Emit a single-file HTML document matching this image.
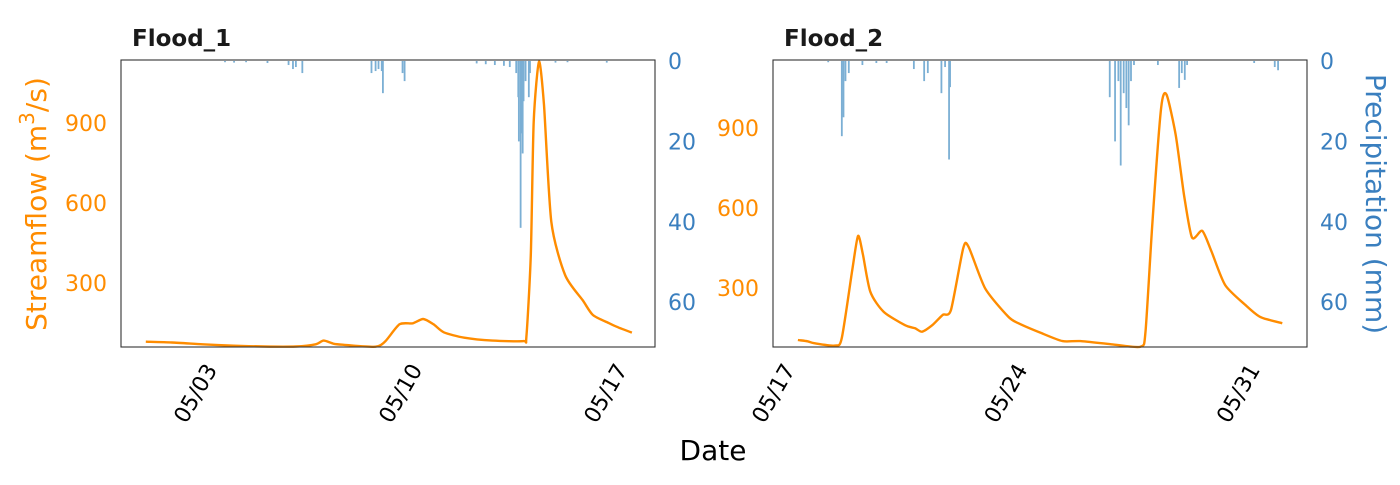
<!DOCTYPE html>
<html><head><meta charset="utf-8"><style>
body{margin:0;background:#fff;width:1400px;height:480px;overflow:hidden}
svg text{font-family:"DejaVu Sans","Liberation Sans",sans-serif}
</style></head><body>
<svg id="chart" width="1400" height="480" xmlns="http://www.w3.org/2000/svg">
<text x="0" y="0" transform="translate(46,204) rotate(-90)" text-anchor="middle" font-size="28" fill="#ff8c00">Streamflow (m<tspan dy="-12" font-size="20">3</tspan><tspan dy="12">/s)</tspan></text>
<text x="0" y="0" transform="translate(1366,204) rotate(90)" text-anchor="middle" font-size="28" fill="#3a7fbf">Precipitation (mm)</text>
<text x="713" y="460" text-anchor="middle" font-size="28" fill="#000">Date</text>
<g id="p1"></g>
<g id="p2"></g>
</svg>
<script>
// Flood_1 data (day offset from 05/01 00:00)
const flow1Days=[0.32,1.21,2.26,3.32,4.36,5.44,6.12,6.39,6.74,7.11,8.16,8.50,8.98,9.43,9.79,10.14,10.49,11.19,12.15,13.21,13.31,13.46,13.56,13.74,13.91,14.16,14.63,15.23,15.58,16.14,16.39,16.91];
const flow1Vals=[80,77,70,65,62,62,70,84,72,68,61,82,145,149,165,145,115,95,84,82,99,405,905,1130,968,530,330,236,180,149,136,114];
const rain1Days=[3.02,3.33,3.74,4.47,5.19,5.34,5.44,5.66,8.02,8.16,8.26,8.37,8.41,9.08,9.15,11.61,11.92,12.23,12.54,12.74,12.96,13.03,13.05,13.11,13.14,13.18,13.21,13.28,13.39,13.43,14.3,14.71,16.05];
const rain1Vals=[0.3,0.4,0.3,0.5,1,2,1.5,3,3,2.5,2,2.5,8,3,5,0.6,0.8,1,1.2,1.5,3,9,20,41.5,18,23,10,5,9,3,0.4,0.3,0.4];
// Flood_2 data (day offset from 05/17 00:00)
const flow2Days=[0.75,1.04,1.24,1.87,2.07,2.38,2.56,2.71,2.93,3.33,3.97,4.28,4.49,4.80,5.11,5.36,5.73,5.89,6.39,7.08,7.39,8.10,8.72,9.26,10.19,11.07,11.22,11.43,11.69,11.85,12.13,12.38,12.62,12.93,13.21,13.62,14.25,14.65,14.96,15.34];
const flow2Vals=[105,100,93,84,111,361,495,424,286,211,161,149,136,161,199,218,449,455,299,193,168,130,101,101,89,80,136,549,974,1026,874,649,489,514,436,311,234,193,180,168];
const rain2Days=[1.66,2.07,2.12,2.18,2.28,2.69,3.11,3.42,4.24,4.55,4.66,5.07,5.18,5.30,5.33,10.14,10.30,10.40,10.47,10.56,10.64,10.71,10.78,10.87,11.59,12.23,12.31,12.40,12.47,14.49,15.11,15.21];
const rain2Vals=[0.3,18.7,14,5,3,1,0.5,0.5,2,5,3,8,1.5,24.5,6.5,9,20,5,26,8,11.7,16,5,1,1,6.7,3,4.7,1,0.5,1.5,2.3];
const flowTicks=[300,600,900];
const rainTicks=[0,20,40,60];
const dateTicks1=[2,9,16], dateLabels1=["05/03","05/10","05/17"];
const dateTicks2=[0,7,14], dateLabels2=["05/17","05/24","05/31"];

const NS="http://www.w3.org/2000/svg";
function mk(parent,tag,attrs){const e=document.createElementNS(NS,tag);for(const k in attrs)e.setAttribute(k,attrs[k]);parent.appendChild(e);return e;}

function smoothPath(p){
  let d='M'+p[0][0].toFixed(1)+','+p[0][1].toFixed(1);
  const k=0.12;
  for(let i=0;i<p.length-1;i++){
    const p0=p[Math.max(0,i-1)],p1=p[i],p2=p[i+1],p3=p[Math.min(p.length-1,i+2)];
    const c1=[p1[0]+(p2[0]-p0[0])*k,p1[1]+(p2[1]-p0[1])*k];
    const c2=[p2[0]-(p3[0]-p1[0])*k,p2[1]-(p3[1]-p1[1])*k];
    d+=` C${c1[0].toFixed(1)},${c1[1].toFixed(1)} ${c2[0].toFixed(1)},${c2[1].toFixed(1)} ${p2[0].toFixed(1)},${p2[1].toFixed(1)}`;
  }
  return d;
}

function panel(g,cfg){
  const {x0,x1,y0,y1,xRef,dRef,pxDay,f0,fPx,fDays,fVals,rDays,rVals,dTicks,dLabels,title}=cfg;
  const xs=d=>xRef+(d-dRef)*pxDay;
  const yf=v=>f0-v*fPx;
  const yr=v=>61+v*4.02;
  let t=mk(g,'text',{x:x0+11,y:46,'font-size':23,'font-weight':'bold',fill:'#1a1a1a'});
  
  
  t.textContent=title;
  rDays.forEach((d,i)=>{
    const r=mk(g,'rect',{x:xs(d)-0.8,y:61,width:1.8,height:Math.max(0.5,yr(rVals[i])-61),fill:'#7bafd4'});
    
    
  });
  const pts=fDays.map((d,i)=>[xs(d),yf(fVals[i])]);
  const pl=mk(g,'path',{d:smoothPath(pts),fill:'none',stroke:'#ff8c00','stroke-width':2.4,'stroke-linejoin':'round'});
  
  
  const fr=mk(g,'rect',{x:x0,y:y0,width:x1-x0,height:y1-y0,fill:'none',stroke:'#333','stroke-width':1.1});
  
  
  flowTicks.forEach(v=>{
    const tt=mk(g,'text',{x:x0-14,y:yf(v)+8,'text-anchor':'end','font-size':22,fill:'#ff8c00'});
    
    
    tt.textContent=v;
  });
  rainTicks.forEach(v=>{
    const tt=mk(g,'text',{x:x1+13,y:yr(v)+8,'font-size':22,fill:'#3a7fbf'});
    
    
    tt.textContent=v;
  });
  dTicks.forEach((d,i)=>{
    const cx=xs(d), cy=393;
    const tt=mk(g,'text',{x:cx,y:cy+8,'text-anchor':'middle','font-size':22,fill:'#000',transform:`rotate(-60 ${cx} ${cy})`});
    
    
    tt.textContent=dLabels[i];
  });
}
panel(document.getElementById('p1'),{x0:121,x1:655,y0:60,y1:347,xRef:195,dRef:2,pxDay:29.3,f0:363,fPx:80/300,
  fDays:flow1Days,fVals:flow1Vals,rDays:rain1Days,rVals:rain1Vals,dTicks:dateTicks1,dLabels:dateLabels1,title:'Flood_1'});
panel(document.getElementById('p2'),{x0:773,x1:1307,y0:60,y1:347,xRef:773,dRef:0,pxDay:33.2,f0:368,fPx:80/300,
  fDays:flow2Days,fVals:flow2Vals,rDays:rain2Days,rVals:rain2Vals,dTicks:dateTicks2,dLabels:dateLabels2,title:'Flood_2'});
</script>
</body></html>
